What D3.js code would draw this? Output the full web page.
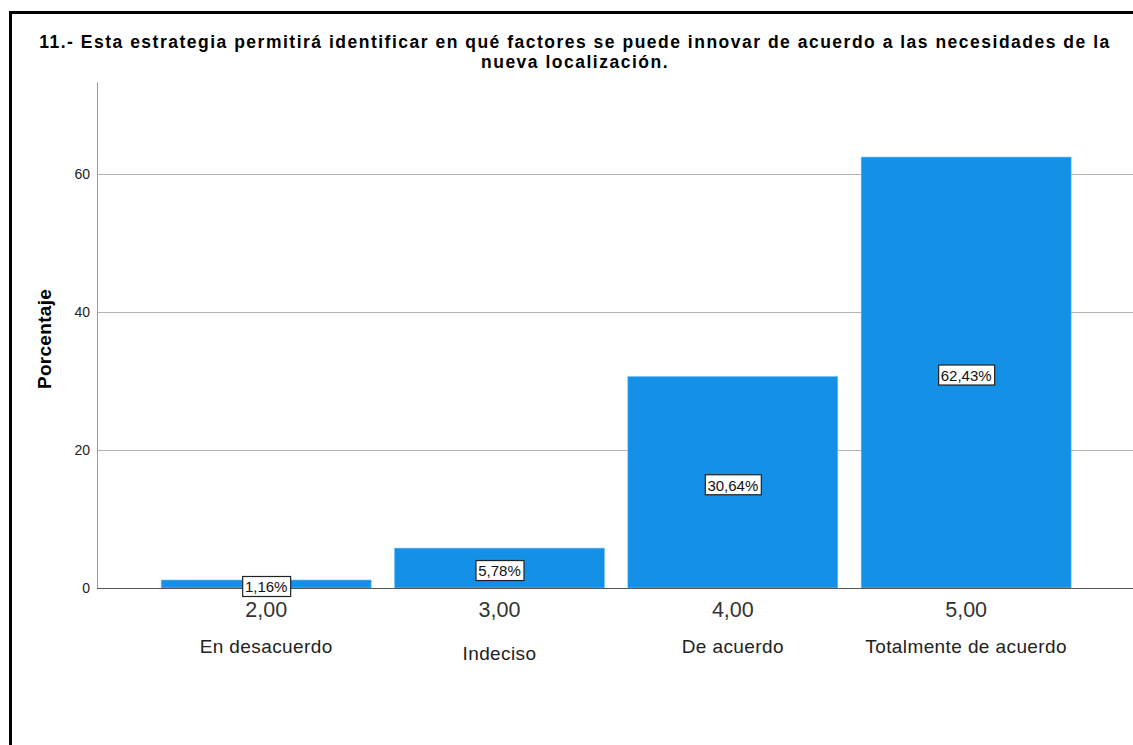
<!DOCTYPE html>
<html>
<head>
<meta charset="utf-8">
<script src="https://cdn.jsdelivr.net/npm/d3@7"></script>
<style>
  body { margin: 0; background: #fff; }
  svg { font-family: "Liberation Sans", Arial, sans-serif; }
</style>
</head>
<body>
<svg width="1133" height="745"></svg>
<script>
// ---- Datos
const codes = ['2,00', '3,00', '4,00', '5,00'];
const categories = ['En desacuerdo', 'Indeciso', 'De acuerdo', 'Totalmente de acuerdo'];
const percents = [1.16, 5.78, 30.64, 62.43];
const valueLabels = ['1,16%', '5,78%', '30,64%', '62,43%'];
const yTicks = [0, 20, 40, 60];
const titleLines = [
    '11.- Esta estrategia permitirá identificar en qué factores se puede innovar de acuerdo a las necesidades de la',
    'nueva localización.'
];

const svg = d3.select('svg');
const margens = { left: 97, right: 0, top: 82, bottom: 157 };
const width = 1133 - margens.left - margens.right;
const height = 745 - margens.top - margens.bottom;

// marco
svg.append('rect')
    .attr('x', 10.5).attr('y', 12.5)
    .attr('width', 1140).attr('height', 760)
    .attr('fill', 'none')
    .attr('stroke', '#000')
    .attr('stroke-width', 3);

// titulo
svg.append('text')
    .selectAll('tspan')
    .data(titleLines)
    .join('tspan')
    .attr('x', 575)
    .attr('y', (d, i) => 48 + i * 20)
    .attr('text-anchor', 'middle')
    .style('font-weight', 'bold')
    .style('font-size', '17.5px')
    .style('letter-spacing', '1.5px')
    .text(d => d);

const data = percents.map((p, i) => ({ code: codes[i], cat: categories[i], y: p, label: valueLabels[i] }));

// ---- Escalas
const mapX = d3.scaleBand()
    .domain(codes)
    .range([52.5, 985.8])
    .paddingInner(0.1)
    .paddingOuter(0.05);

const mapY = d3.scaleLinear()
    .domain([0, 73.3])
    .range([height, 0]);

const g = svg.append('g')
    .attr('transform', `translate(${margens.left}, ${margens.top})`);

// ---- Grid
g.selectAll('.grid')
    .data(yTicks.filter(t => t > 0))
    .join('line')
    .attr('class', 'grid')
    .attr('x1', 0).attr('x2', width)
    .attr('y1', d => Math.round(mapY(d)) + 0.5)
    .attr('y2', d => Math.round(mapY(d)) + 0.5)
    .attr('stroke', '#b4b4b4');

// ---- Eje Y
const yAxis = g.append('g')
    .call(d3.axisLeft(mapY).tickValues(yTicks).tickSize(0).tickPadding(7));
yAxis.select('.domain').attr('stroke', '#9a9a9a');
yAxis.selectAll('text')
    .style('font-size', '14px')
    .style('fill', '#222')
    .style('font-family', '"Liberation Sans", Arial, sans-serif');

g.append('text')
    .attr('transform', 'rotate(-90)')
    .attr('x', -257)
    .attr('y', -46)
    .attr('text-anchor', 'middle')
    .style('font-weight', 'bold')
    .style('font-size', '19px')
    .style('letter-spacing', '0.3px')
    .text('Porcentaje');

// ---- Barras
g.selectAll('.bar')
    .data(data)
    .join('rect')
    .attr('class', 'bar')
    .attr('x', d => mapX(d.code))
    .attr('y', d => mapY(d.y))
    .attr('width', mapX.bandwidth())
    .attr('height', d => height - mapY(d.y))
    .attr('fill', '#1490e6')
    .attr('stroke', '#7cc0f2')
    .attr('stroke-width', 0.6);

// linea base
g.append('line')
    .attr('x1', 0).attr('x2', width)
    .attr('y1', height + 0.5).attr('y2', height + 0.5)
    .attr('stroke', '#555');

// ---- Etiquetas de valor
const labels = g.selectAll('.vlabel')
    .data(data)
    .join('g')
    .attr('class', 'vlabel')
    .attr('transform', d => `translate(${mapX(d.code) + mapX.bandwidth() / 2}, ${(mapY(d.y) + height) / 2 + 3})`);

labels.append('text')
    .attr('text-anchor', 'middle')
    .attr('dy', '0.36em')
    .style('font-size', '15px')
    .style('fill', '#111')
    .text(d => d.label)
    .each(function () {
        const bb = this.getBBox();
        d3.select(this.parentNode).insert('rect', 'text')
            .attr('x', Math.round(bb.x) - 2.5)
            .attr('y', Math.round(bb.y) - 1.5)
            .attr('width', Math.round(bb.width) + 5)
            .attr('height', Math.round(bb.height) + 3)
            .attr('fill', '#fff')
            .attr('stroke', '#222')
            .attr('stroke-width', 1.2);
    });

// ---- Eje X
const xAxis = g.append('g')
    .attr('transform', `translate(0, ${height})`)
    .call(d3.axisBottom(mapX).tickSize(0).tickPadding(14));
xAxis.select('.domain').remove();
xAxis.selectAll('text')
    .style('font-size', '21.5px')
    .style('fill', '#333')
    .style('font-family', '"Liberation Sans", Arial, sans-serif');

g.selectAll('.cat')
    .data(data)
    .join('text')
    .attr('class', 'cat')
    .attr('x', d => mapX(d.code) + mapX.bandwidth() / 2)
    .attr('y', (d, i) => height + (i === 1 ? 72 : 65))
    .attr('text-anchor', 'middle')
    .style('font-size', '19px')
    .style('letter-spacing', '0.4px')
    .style('fill', '#222')
    .text(d => d.cat);
</script>
</body>
</html>
